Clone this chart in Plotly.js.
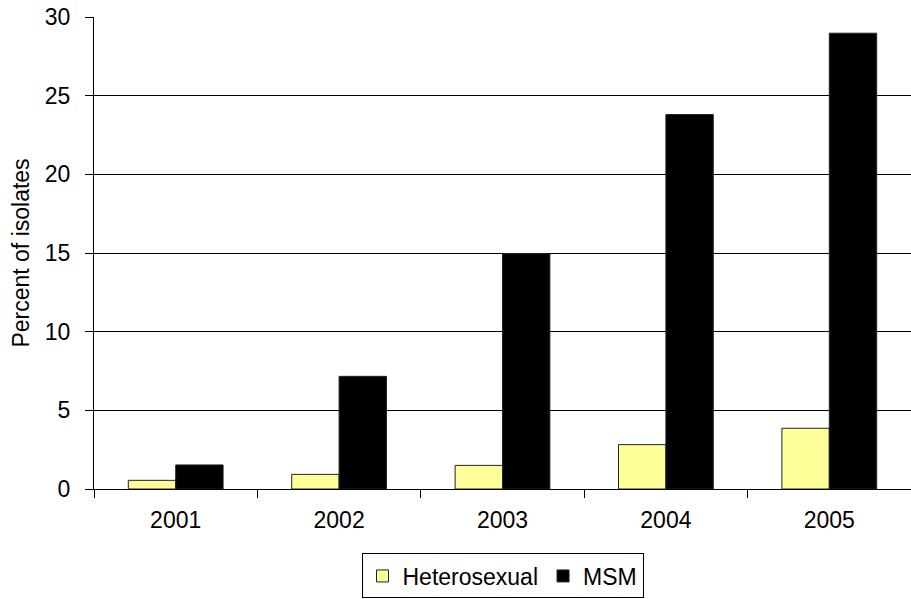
<!DOCTYPE html>
<html><head><meta charset="utf-8">
<script src="https://cdn.plot.ly/plotly-3.0.1.min.js"></script>
<style>html,body{margin:0;padding:0;background:#fff}</style>
</head><body>
<div id="chart" style="width:911px;height:599px"></div>
<script>
var years = ["2001", "2002", "2003", "2004", "2005"];
var heterosexual = [0.55, 0.93, 1.5, 2.82, 3.86];
var msm = [1.53, 7.16, 14.95, 23.8, 28.97];

var data = [
  {type: "bar", name: "Heterosexual", x: years, y: heterosexual,
   marker: {color: "#FFFF99", line: {color: "#222", width: 1}}},
  {type: "bar", name: "MSM", x: years, y: msm,
   marker: {color: "#000000", line: {color: "#222", width: 1}}}
];
var layout = {
  width: 911, height: 599,
  margin: {l: 94, r: 0, t: 17, b: 110, autoexpand: false},
  paper_bgcolor: "#fff", plot_bgcolor: "#fff",
  font: {family: "Liberation Sans, Arial, sans-serif", size: 23, color: "#000"},
  barmode: "group", bargap: 0.42, bargroupgap: 0,
  showlegend: true,
  legend: {orientation: "h", x: 0.5, xanchor: "center",
    yref: "container", y: 0.076, yanchor: "top",
    bordercolor: "#000", borderwidth: 1, font: {size: 23},
    itemwidth: 30, tracegroupgap: 0, traceorder: "normal"},
  xaxis: {type: "category", showline: true, linecolor: "#000", linewidth: 1,
    ticks: "outside", tickson: "boundaries", ticklen: 8, tickcolor: "#000",
    showgrid: false, zeroline: false, tickfont: {size: 23}, ticklabelstandoff: 10,
    automargin: false},
  yaxis: {range: [0, 30], dtick: 5, showline: true, linecolor: "#000", linewidth: 1,
    ticks: "outside", ticklen: 8, tickcolor: "#000",
    showgrid: true, gridcolor: "#000", gridwidth: 1, zeroline: false,
    tickfont: {size: 23}, ticklabelstandoff: 10, automargin: false,
    title: {text: "Percent of isolates", font: {size: 23}, standoff: 8}}
};
Plotly.newPlot("chart", data, layout, {displayModeBar: false, staticPlot: true});
</script>
</body></html>
